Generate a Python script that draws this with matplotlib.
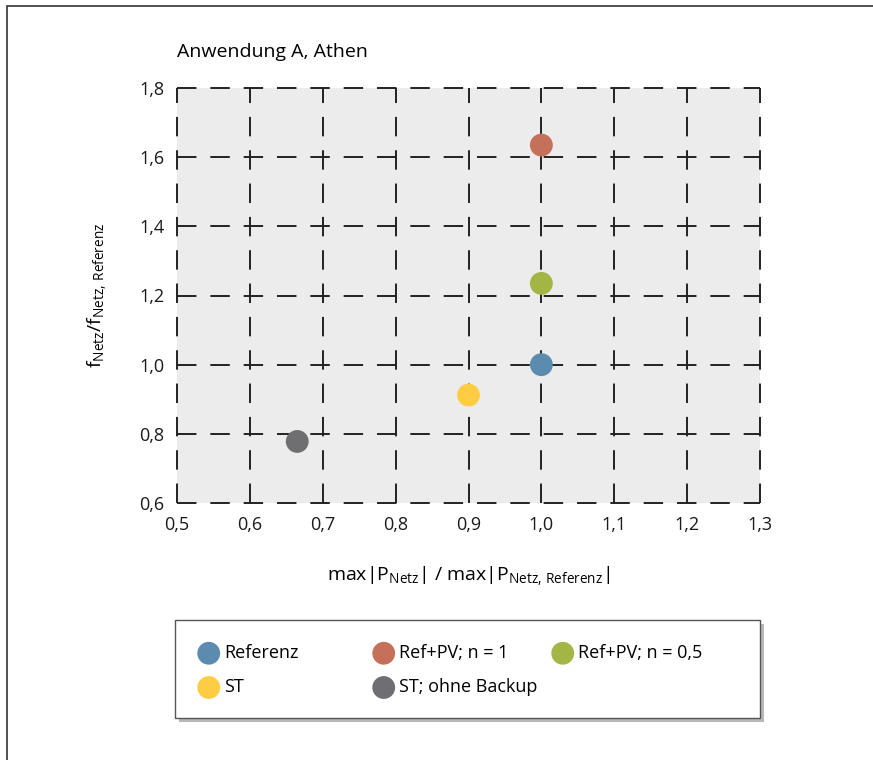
import matplotlib
matplotlib.use('Agg')
import matplotlib.pyplot as plt
from matplotlib.patches import Rectangle

plt.rcParams['font.family'] = ['Open Sans', 'DejaVu Sans']
plt.rcParams['lines.scale_dashes'] = False

# data
labels = ['Referenz', 'Ref+PV; n = 1', 'Ref+PV; n = 0,5', 'ST', 'ST; ohne Backup']
x_vals = [1.0, 1.0, 1.0, 0.9, 0.665]
y_vals = [1.0, 1.635, 1.235, 0.912, 0.778]
colors = ['#5B8BAE', '#C5705A', '#A2B545', '#FFCC44', '#6F6F71']
x_ticks = [0.5, 0.6, 0.7, 0.8, 0.9, 1.0, 1.1, 1.2, 1.3]
y_ticks = [0.6, 0.8, 1.0, 1.2, 1.4, 1.6, 1.8]

W, H = 873, 760
fig = plt.figure(figsize=(W/100, H/100), dpi=100)
ax = fig.add_axes([177/W, 1-503/H, (760-177)/W, (503-88)/H])
ax.set_facecolor('#EBECEB')

handles = {}
for lab, x, y, c in zip(labels, x_vals, y_vals, colors):
    handles[lab] = ax.scatter(x, y, s=270, color=c, edgecolors='none', zorder=3, label=lab)

ax.set_xlim(0.5, 1.3)
ax.set_ylim(0.6, 1.8)
ax.set_xticks(x_ticks)
ax.set_yticks(y_ticks)
ax.set_xticklabels([f'{v:.1f}'.replace('.', ',') for v in x_ticks])
ax.set_yticklabels([f'{v:.1f}'.replace('.', ',') for v in y_ticks])
ax.tick_params(length=0, labelsize=13, pad=9, colors='#1a1a1a')

for s in ax.spines.values():
    s.set_visible(False)
ax.grid(True, color='#222222', linewidth=1.4, linestyle=(0, (14, 10)))
ax.set_axisbelow(True)
for gl in ax.get_xgridlines() + ax.get_ygridlines():
    gl.set_clip_on(False)

ax.set_xlabel(r'max|P$_{\mathregular{Netz}}$| / max|P$_{\mathregular{Netz{,}\ Referenz}}$|',
              fontsize=14, labelpad=22)
ax.set_ylabel(r'f$_{\mathregular{Netz}}$/f$_{\mathregular{Netz{,}\ Referenz}}$',
              fontsize=14, labelpad=22)
ax.set_title('Anwendung A, Athen', loc='left', fontsize=14, pad=22)

# legend box with shadow
fig.patches.append(Rectangle((179/W, 1-722/H), 585/W, 98/H, transform=fig.transFigure,
                             facecolor='#8a8a8a', edgecolor='none', alpha=0.6, zorder=1))
fig.patches.append(Rectangle((175/W, 1-718/H), 585/W, 98/H, transform=fig.transFigure,
                             facecolor='white', edgecolor='#555555', linewidth=1.0, zorder=2))

# one legend per column so the columns sit where they do in the reference
columns = [['Referenz', 'ST'], ['Ref+PV; n = 1', 'ST; ohne Backup'], ['Ref+PV; n = 0,5']]
col_x = [197, 372, 551]
for keys, cx in zip(columns, col_x):
    lg = fig.legend([handles[k] for k in keys], keys, loc='upper left',
                    bbox_to_anchor=(cx/W, 1-644/H), frameon=False, fontsize=13,
                    handletextpad=0.2, borderpad=0, borderaxespad=0,
                    labelspacing=0.9, handlelength=1.3)
    lg.set_zorder(3)

# outer frame of the figure
fig.patches.append(Rectangle((7/W, -0.1), 1.2, 1-6/H+0.1, transform=fig.transFigure,
                             fill=False, edgecolor='#333333', linewidth=1.2))

fig.savefig('out.png', dpi=100)
